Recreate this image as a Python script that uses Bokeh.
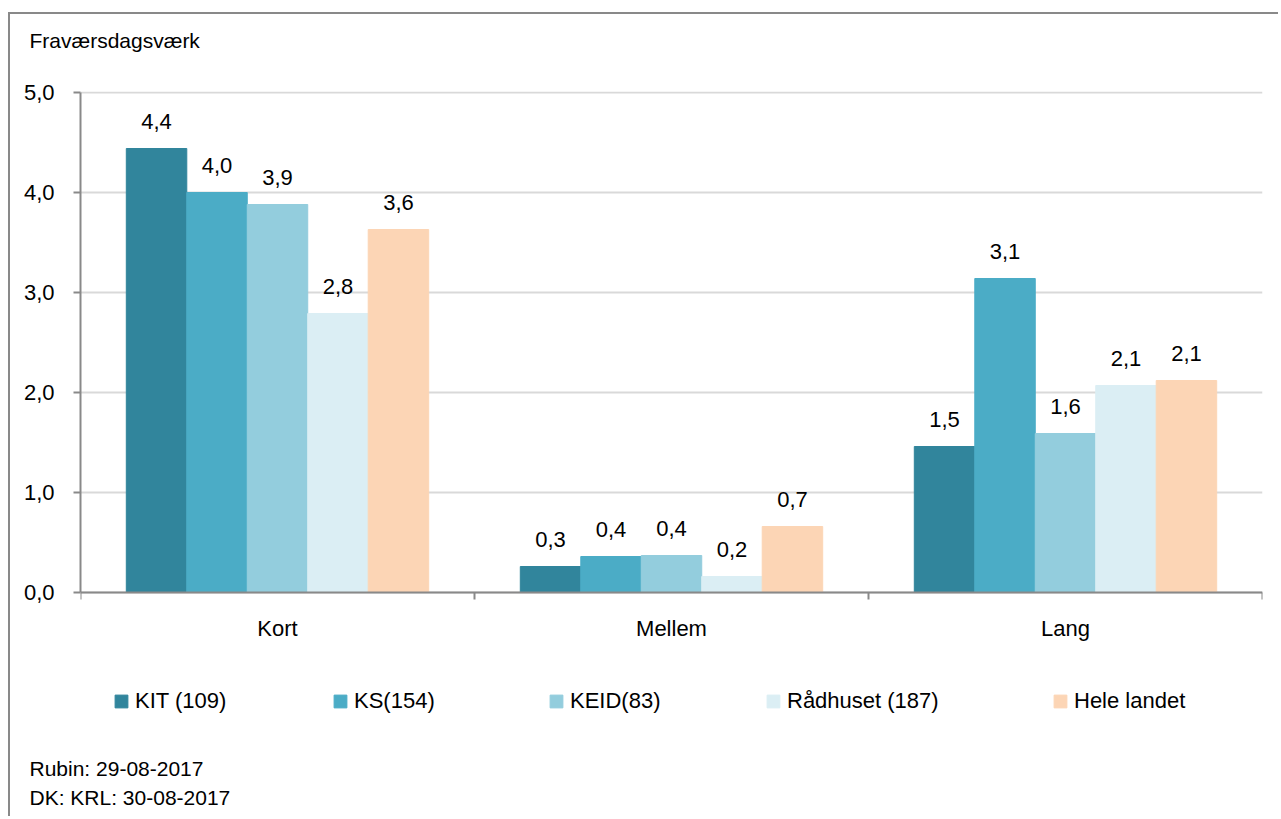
from bokeh.plotting import figure
from bokeh.models import (Range1d, LinearAxis, FixedTicker, Title,
                          ColumnDataSource, Legend, LegendItem)
from bokeh.transform import dodge
from bokeh.core.properties import value
from bokeh.embed import file_html
from bokeh.resources import INLINE

# ---- data ----
categories = ["Kort", "Mellem", "Lang"]
series_names = ["KIT (109)", "KS(154)", "KEID(83)", "Rådhuset (187)", "Hele landet"]
kit = [4.44, 0.26, 1.46]
ks = [4.00, 0.36, 3.14]
keid = [3.88, 0.37, 1.59]
raadhuset = [2.79, 0.16, 2.07]
hele_landet = [3.63, 0.66, 2.12]
y_ticks = [0, 1, 2, 3, 4, 5]
y_tick_labels = ["0,0", "1,0", "2,0", "3,0", "4,0", "5,0"]
title_text = "Fraværsdagsværk"
footnotes = ["Rubin: 29-08-2017", "DK: KRL: 30-08-2017"]

colors = ["#31859C", "#4BACC6", "#93CDDD", "#DBEEF4", "#FCD5B5"]
FONT = "Liberation Sans"
GREY = "#898989"
FS = "22px"

series_values = [kit, ks, keid, raadhuset, hele_landet]
keys = ["kit", "ks", "keid", "raadhuset", "hele"]
n = len(categories)
centers = [i + 0.5 for i in range(n)]

data = {"cat": categories, "xc": centers, "zero": [0] * n}
for k, vals in zip(keys, series_values):
    data[k] = vals
    data[k + "_lbl"] = [f"{v:.1f}".replace(".", ",") for v in vals]
source = ColumnDataSource(data)

# frame: page y 91 (top) .. bottom; 100 px per unit, y=0 at page 592
BOTTOM = 66
frame_bottom_page = 818 - BOTTOM
y_start = -(frame_bottom_page - 592) / 100.0

p = figure(x_range=Range1d(0, n), y_range=Range1d(y_start, 5.01), title=None,
           x_axis_location=None, width=1270, height=804,
           output_backend="svg", toolbar_location=None,
           min_border_left=70, min_border_right=18, min_border_top=77, min_border_bottom=BOTTOM)
p.margin = (12, 0, 0, 8)
p.styles = {"border-left": f"2px solid {GREY}", "border-top": f"2px solid {GREY}"}
p.outline_line_color = None
p.xgrid.grid_line_color = None
p.ygrid.grid_line_color = "#d9d9d9"
p.ygrid.grid_line_width = 2
p.ygrid.ticker = FixedTicker(ticks=y_ticks)

yax = p.yaxis[0]
yax.ticker = FixedTicker(ticks=y_ticks)
yax.bounds = (0, 5)
yax.major_label_overrides = {t: l for t, l in zip(y_ticks, y_tick_labels)}
yax.axis_line_color = GREY
yax.axis_line_width = 2
yax.major_tick_line_color = GREY
yax.major_tick_line_width = 2
yax.major_tick_out = 7
yax.major_tick_in = 0
yax.minor_tick_line_color = None
yax.major_label_standoff = 19
yax.major_label_text_font = FONT
yax.major_label_text_font_size = FS
yax.major_label_text_color = "black"

# x axis line at y=0 with ticks at category boundaries
edges = list(range(n + 1))
edge_axis = LinearAxis(ticker=FixedTicker(ticks=edges), fixed_location=0,
                       major_label_overrides={e: "" for e in edges},
                       major_label_text_font_size="1px", major_label_standoff=0,
                       axis_line_color=GREY, axis_line_width=2,
                       major_tick_line_color=GREY, major_tick_line_width=2,
                       major_tick_out=7, major_tick_in=0, minor_tick_line_color=None)
p.add_layout(edge_axis, "below")

# category labels under the axis
p.text(x="xc", y="zero", text="cat", source=source, text_align="center",
       text_baseline="middle", y_offset=36, text_font=value(FONT),
       text_font_size=FS, text_color="black")

w = 0.1535
offsets = [-2 * w, -w, 0, w, 2 * w]
renderers = []
for k, col, off in zip(keys, colors, offsets):
    xx = dodge("xc", off)
    r = p.vbar(x=xx, top=k, bottom=0, width=w, source=source, fill_color=col, line_color=col)
    renderers.append(r)
    p.text(x=xx, y=k, text=k + "_lbl", source=source, text_align="center",
           text_baseline="alphabetic", y_offset=-27, text_font=value(FONT),
           text_font_size=FS, text_color="black")

legend_x = [33, 252, 468, 685, 972]
legend_y = frame_bottom_page - 714
for r, name, lx in zip(renderers, series_names, legend_x):
    lg = Legend(items=[LegendItem(label=name, renderers=[r])], location=(lx, legend_y),
                orientation="horizontal", padding=0, margin=0, spacing=0,
                border_line_color=None, background_fill_alpha=0,
                glyph_width=16, glyph_height=16, label_standoff=6, label_height=16,
                label_text_font=FONT, label_text_font_size=FS, label_text_color="black")
    p.add_layout(lg, "center")

# spacer between frame and the axis title, then the title itself
p.add_layout(Title(text=" ", standoff=37, text_font=FONT, text_font_size="1px",
                   text_color="white"), "above")
p.add_layout(Title(text=title_text, align="left", offset=-51, standoff=0,
                   text_font=FONT, text_font_size="21px", text_font_style="normal",
                   text_color="black"), "above")
for t in footnotes:
    p.add_layout(Title(text=t, align="left", offset=-51, standoff=4,
                       text_font=FONT, text_font_size="21px", text_font_style="normal",
                       text_color="black"), "below")

open("out.html", "w").write(file_html(p, INLINE))
